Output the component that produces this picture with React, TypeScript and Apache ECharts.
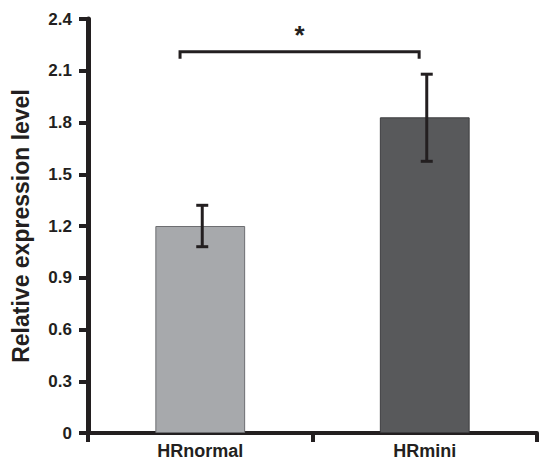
import React, { useEffect, useRef } from "react";
import * as echarts from "echarts";

const categories = ["HRnormal", "HRmini"];
const meanValues = [1.2, 1.83];
const errLow = [1.08, 1.575];
const errHigh = [1.32, 2.08];
const barColors = ["#a7a9ac", "#58595b"];
const barBorders = ["#6d6e71", "#3d3d3f"];
const yTicks = { min: 0, max: 2.4, interval: 0.3 };
const bracket = { x0: -0.09, x1: 0.975, y: 2.21, label: "*" };

const INK = "#231f20";
const FONT = "'Liberation Sans', Arial, sans-serif";

export default function App() {
  const ref = useRef<HTMLDivElement>(null);
  useEffect(() => {
    if (!ref.current) return;
    const chart = echarts.init(ref.current, null, { renderer: "svg" });
    chart.setOption({
      animation: false,
      backgroundColor: "#ffffff",
      grid: { left: 88, right: 4, top: 19, bottom: 26, containLabel: false },
      xAxis: [
        {
          type: "category",
          data: categories,
          boundaryGap: true,
          axisLine: { onZero: false, lineStyle: { color: INK, width: 4 } },
          axisTick: { show: true, length: 9, lineStyle: { color: INK, width: 4 } },
          axisLabel: {
            color: INK,
            fontFamily: FONT,
            fontWeight: "bold",
            fontSize: 18,
            margin: 9,
          },
        },
        {
          type: "value",
          min: -0.5,
          max: 1.5,
          show: false,
        },
      ],
      yAxis: {
        type: "value",
        position: "left",
        min: yTicks.min,
        max: yTicks.max,
        interval: yTicks.interval,
        name: "Relative expression level",
        nameLocation: "middle",
        nameGap: 56,
        nameTextStyle: {
          color: INK,
          fontFamily: FONT,
          fontWeight: "bold",
          fontSize: 23,
        },
        axisLine: { show: true, onZero: false, lineStyle: { color: INK, width: 5 } },
        axisTick: { show: true, length: 9, lineStyle: { color: INK, width: 4 } },
        splitLine: { show: false },
        axisLabel: {
          color: INK,
          fontFamily: FONT,
          fontWeight: "bold",
          fontSize: 17,
          margin: 16,
          formatter: (v: number) => (v === 0 ? "0" : v.toFixed(1)),
        },
      },
      series: [
        {
          type: "bar",
          barWidth: "40%",
          data: meanValues.map((v, i) => ({
            value: v,
            itemStyle: { color: barColors[i], borderColor: barBorders[i], borderWidth: 1 },
          })),
        },
        {
          type: "custom",
          xAxisIndex: 0,
          data: categories.map((_, i) => [i, errLow[i], errHigh[i]]),
          z: 5,
          renderItem: (params: any, api: any) => {
            const i = api.value(0);
            const lo = api.coord([i, api.value(1)]);
            const hi = api.coord([i, api.value(2)]);
            const x = lo[0] + 2;
            const half = 6;
            const style = { stroke: INK, lineWidth: 3 };
            return {
              type: "group",
              children: [
                { type: "line", shape: { x1: x, y1: lo[1], x2: x, y2: hi[1] }, style },
                { type: "line", shape: { x1: x - half, y1: hi[1], x2: x + half, y2: hi[1] }, style },
                { type: "line", shape: { x1: x - half, y1: lo[1], x2: x + half, y2: lo[1] }, style },
              ],
            };
          },
        },
        {
          type: "custom",
          xAxisIndex: 1,
          data: [[bracket.x0, bracket.x1, bracket.y]],
          z: 5,
          renderItem: (params: any, api: any) => {
            const a = api.coord([api.value(0), api.value(2)]);
            const b = api.coord([api.value(1), api.value(2)]);
            const leg = 7;
            return {
              type: "group",
              children: [
                {
                  type: "polyline",
                  shape: {
                    points: [
                      [a[0], a[1] + leg],
                      [a[0], a[1]],
                      [b[0], b[1]],
                      [b[0], b[1] + leg],
                    ],
                  },
                  style: { stroke: INK, lineWidth: 3, fill: null },
                },
                {
                  type: "text",
                  x: (a[0] + b[0]) / 2,
                  y: a[1] - 4,
                  style: {
                    text: bracket.label,
                    fill: INK,
                    font: `bold 26px ${FONT}`,
                    align: "center",
                    verticalAlign: "bottom",
                  },
                },
              ],
            };
          },
        },
      ],
    });
    return () => chart.dispose();
  }, []);
  return (
    <div
      ref={ref}
      style={{ position: "fixed", left: 0, top: 0, width: 541, height: 460, background: "#fff" }}
    />
  );
}
